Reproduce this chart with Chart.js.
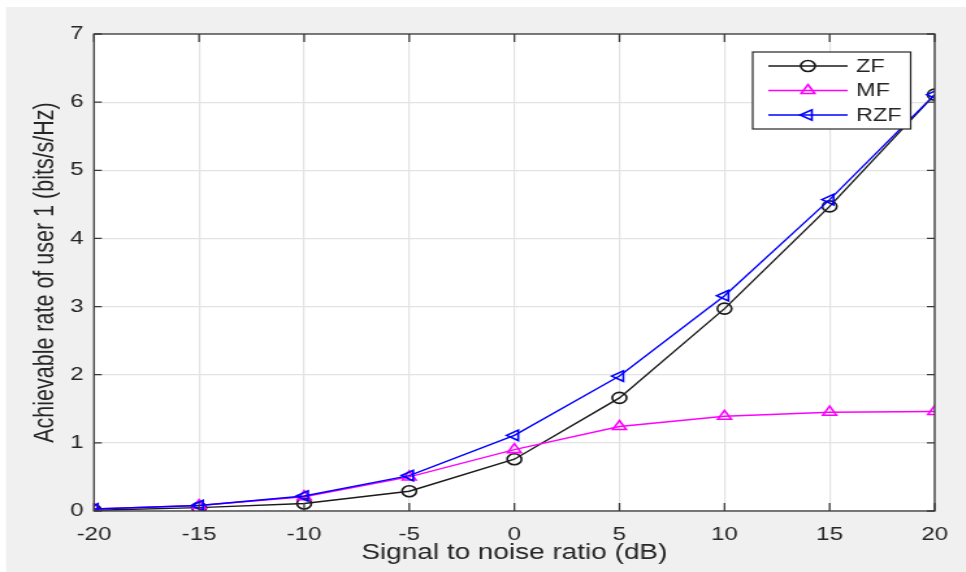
<!DOCTYPE html>
<html>
<head>
<meta charset="utf-8">
<script src="https://cdn.jsdelivr.net/npm/chart.js@4"></script>
<style>
  html, body { margin: 0; padding: 0; background: #ffffff; overflow: hidden; }
  /* the source figure is stretched sideways, so draw narrow and widen it */
  #wrap { width: 743px; height: 572px; transform: scaleX(1.3); transform-origin: 0 0; }
</style>
</head>
<body>
<div id="wrap"><canvas id="rateChart" width="743" height="572" style="width:743px;height:572px"></canvas></div>
<script>
// SNR points (dB)
const snr = [-20, -15, -10, -5, 0, 5, 10, 15, 20];
// achievable rate of user 1 (bits/s/Hz)
const zfRate = [0.01, 0.05, 0.11, 0.29, 0.76, 1.66, 2.97, 4.47, 6.11];
const mfRate = [0.03, 0.08, 0.21, 0.50, 0.90, 1.24, 1.39, 1.45, 1.46];
const rzfRate = [0.03, 0.08, 0.22, 0.52, 1.11, 1.98, 3.16, 4.57, 6.11];
const xTicks = [-20, -15, -10, -5, 0, 5, 10, 15, 20];
const yTicks = [0, 1, 2, 3, 4, 5, 6, 7];

const fontFamily = '"Liberation Sans", Arial, sans-serif';
const textColor = '#262626';

function toPoints(values) {
    return snr.map((x, i) => ({ x: x, y: values[i] }));
}

// grey figure background, white axes box, inward tick marks
const figurePlugin = {
    id: 'figure',
    beforeDraw(chart) {
        const { ctx, chartArea: a } = chart;
        ctx.save();
        ctx.fillStyle = '#f0f0f0';
        ctx.fillRect(4.6, 7, chart.width, chart.height - 7);
        ctx.fillStyle = '#ffffff';
        ctx.fillRect(a.left, a.top, a.right - a.left, a.bottom - a.top);
        ctx.restore();
    },
    afterDatasetsDraw(chart) {
        const { ctx, chartArea: a, scales } = chart;
        ctx.save();
        ctx.strokeStyle = '#3a3a3a';
        ctx.lineWidth = 1.3;
        ctx.strokeRect(a.left, a.top, a.right - a.left, a.bottom - a.top);
        ctx.beginPath();
        xTicks.forEach(v => {
            const px = scales.x.getPixelForValue(v);
            ctx.moveTo(px, a.bottom); ctx.lineTo(px, a.bottom - 8);
            ctx.moveTo(px, a.top); ctx.lineTo(px, a.top + 8);
        });
        yTicks.forEach(v => {
            const py = scales.y.getPixelForValue(v);
            ctx.moveTo(a.left, py); ctx.lineTo(a.left + 6, py);
            ctx.moveTo(a.right, py); ctx.lineTo(a.right - 6, py);
        });
        ctx.stroke();
        ctx.restore();
    }
};

// MATLAB-style legend box: line + marker + label
const legendPlugin = {
    id: 'boxLegend',
    afterDraw(chart) {
        const { ctx } = chart;
        const box = { x: 579, y: 52, w: 121.5, h: 77 };
        const rowH = 24.5;
        ctx.save();
        ctx.fillStyle = '#ffffff';
        ctx.fillRect(box.x, box.y, box.w, box.h);
        ctx.strokeStyle = '#262626';
        ctx.lineWidth = 1.2;
        ctx.strokeRect(box.x, box.y, box.w, box.h);
        chart.data.datasets.forEach((ds, row) => {
            const cy = box.y + 14 + row * rowH;
            ctx.strokeStyle = ds.borderColor;
            ctx.lineWidth = 1.4;
            ctx.beginPath();
            ctx.moveTo(591, cy);
            ctx.lineTo(652, cy);
            ctx.stroke();
            ctx.fillStyle = 'rgba(0,0,0,0)';
            ctx.lineWidth = 1.6;
            Chart.helpers.drawPoint(ctx, {
                pointStyle: ds.pointStyle,
                rotation: ds.pointRotation || 0,
                radius: ds.pointRadius,
                borderWidth: 1.6
            }, 621.5, cy);
            ctx.fillStyle = textColor;
            ctx.font = '18px ' + fontFamily;
            ctx.textBaseline = 'middle';
            ctx.fillText(ds.label, 658.5, cy + 1);
        });
        ctx.restore();
    }
};

const ctx = document.getElementById('rateChart').getContext('2d');
new Chart(ctx, {
    type: 'line',
    data: {
        datasets: [
            {
                label: 'ZF',
                data: toPoints(zfRate),
                borderColor: '#1a1a1a',
                backgroundColor: 'rgba(0,0,0,0)',
                pointStyle: 'circle',
                pointRadius: 5.5,
                pointBorderWidth: 1.6,
                borderWidth: 1.4,
                order: 2
            },
            {
                label: 'MF',
                data: toPoints(mfRate),
                borderColor: '#ff00ff',
                backgroundColor: 'rgba(0,0,0,0)',
                pointStyle: 'triangle',
                pointRadius: 6,
                pointBorderWidth: 1.6,
                borderWidth: 1.4,
                order: 1
            },
            {
                label: 'RZF',
                data: toPoints(rzfRate),
                borderColor: '#0000ff',
                backgroundColor: 'rgba(0,0,0,0)',
                pointStyle: 'triangle',
                pointRotation: -90,
                pointRadius: 6,
                pointBorderWidth: 1.6,
                borderWidth: 1.4,
                order: 0
            }
        ]
    },
    options: {
        responsive: false,
        animation: false,
        layout: { padding: { left: 0, top: 34, right: 24, bottom: 0 } },
        plugins: {
            legend: { display: false },
            tooltip: { enabled: false }
        },
        scales: {
            x: {
                type: 'linear',
                min: -20,
                max: 20,
                afterBuildTicks(axis) { axis.ticks = xTicks.map(v => ({ value: v })); },
                afterFit(axis) { axis.height = 61; },
                grid: { color: '#e3e3e3', lineWidth: 1.2, drawTicks: false },
                border: { display: false },
                ticks: {
                    padding: 13,
                    color: textColor,
                    font: { family: fontFamily, size: 18.5 },
                    maxRotation: 0
                },
                title: {
                    display: true,
                    text: 'Signal to noise ratio (dB)',
                    color: textColor,
                    font: { family: fontFamily, size: 21.5 },
                    padding: { top: 0, bottom: 6 }
                }
            },
            y: {
                min: 0,
                max: 7,
                afterBuildTicks(axis) { axis.ticks = yTicks.map(v => ({ value: v })); },
                afterFit(axis) { axis.width = 72.3; },
                grid: { color: '#e3e3e3', lineWidth: 1.2, drawTicks: false },
                border: { display: false },
                ticks: {
                    padding: 8,
                    color: textColor,
                    font: { family: fontFamily, size: 18.5 }
                },
                title: {
                    display: true,
                    text: 'Achievable rate of user 1 (bits/s/Hz)',
                    color: textColor,
                    font: { family: fontFamily, size: 21.5 },
                    padding: { top: 22, bottom: 0 }
                }
            }
        }
    },
    plugins: [figurePlugin, legendPlugin]
});
</script>
</body>
</html>
